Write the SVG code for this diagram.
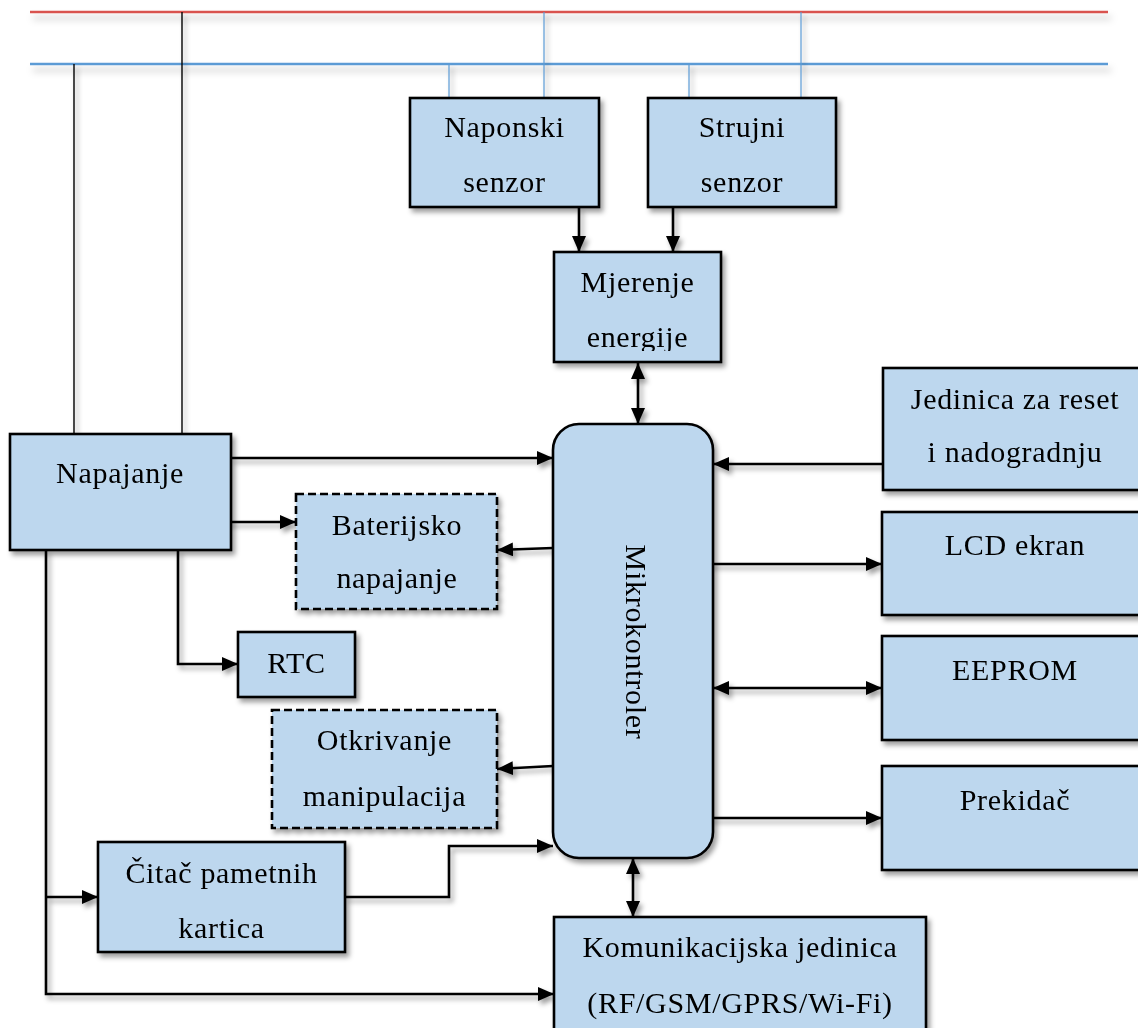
<svg xmlns="http://www.w3.org/2000/svg" width="1138" height="1028" viewBox="0 0 1138 1028">
<style>
.box{fill:#BDD7EE;stroke:#000;stroke-width:2.6}
.dash{fill:#BDD7EE;stroke:#000;stroke-width:2.6;stroke-dasharray:8 4}
.t{font-family:"Liberation Serif","Times New Roman",serif;font-size:30px;text-anchor:middle;fill:#000;letter-spacing:0.7px}
.c{fill:none;stroke:#000;stroke-width:2.6}
.thin{fill:none;stroke:#000;stroke-width:1.4}
.bl{fill:none;stroke:#5B9BD5;stroke-width:1.2}
</style>
<defs>
<filter id="sh" x="-20%" y="-20%" width="140%" height="140%">
<feDropShadow dx="3" dy="4" stdDeviation="2.5" flood-color="#000" flood-opacity="0.38"/>
</filter>
<filter id="shl" x="-5%" y="-200%" width="110%" height="500%">
<feDropShadow dx="3" dy="6" stdDeviation="3.5" flood-color="#000" flood-opacity="0.25"/>
</filter>
<marker id="ah" viewBox="0 0 16 14" refX="16" refY="7" markerWidth="16" markerHeight="14" markerUnits="userSpaceOnUse" orient="auto-start-reverse">
<path d="M0,0 L16,7 L0,14 z" fill="#000"/>
</marker>
<clipPath id="mjclip"><rect x="540" y="240" width="200" height="111"/></clipPath>
</defs>

<g id="buses" filter="url(#shl)">
<line x1="30" y1="12" x2="1108" y2="12" stroke="#D9534F" stroke-width="2.5"/>
<line x1="30" y1="64" x2="1108" y2="64" stroke="#5B9BD5" stroke-width="2.5"/>
</g>

<g id="connectors" filter="url(#sh)">
<line class="thin" x1="182" y1="12" x2="182" y2="434"/>
<line class="thin" x1="74" y1="64" x2="74" y2="434"/>
<line class="bl" x1="449" y1="64" x2="449" y2="98"/>
<line class="bl" x1="544" y1="12" x2="544" y2="98"/>
<line class="bl" x1="689" y1="64" x2="689" y2="98"/>
<line class="bl" x1="801" y1="12" x2="801" y2="98"/>
<line class="c" x1="579" y1="207" x2="579" y2="252" marker-end="url(#ah)"/>
<line class="c" x1="673" y1="207" x2="673" y2="252" marker-end="url(#ah)"/>
<line class="c" x1="638" y1="363" x2="638" y2="424" marker-start="url(#ah)" marker-end="url(#ah)"/>
<line class="c" x1="231" y1="458" x2="553" y2="458" marker-end="url(#ah)"/>
<line class="c" x1="227" y1="522" x2="296" y2="522" marker-end="url(#ah)"/>
<line class="c" x1="553" y1="548" x2="497" y2="550" marker-end="url(#ah)"/>
<polyline class="c" points="178,550 178,664 238,664" marker-end="url(#ah)"/>
<line class="c" x1="553" y1="766" x2="497" y2="769" marker-end="url(#ah)"/>
<polyline class="c" points="345,897 449,897 449,846 553,846" marker-end="url(#ah)"/>
<polyline class="c" points="46,550 46,994 554,994" marker-end="url(#ah)"/>
<line class="c" x1="46" y1="897" x2="98" y2="897" marker-end="url(#ah)"/>
<line class="c" x1="883" y1="464" x2="713" y2="464" marker-end="url(#ah)"/>
<line class="c" x1="709" y1="564" x2="882" y2="564" marker-end="url(#ah)"/>
<line class="c" x1="713" y1="688" x2="882" y2="688" marker-start="url(#ah)" marker-end="url(#ah)"/>
<line class="c" x1="709" y1="818" x2="882" y2="818" marker-end="url(#ah)"/>
<line class="c" x1="633" y1="858" x2="633" y2="917" marker-start="url(#ah)" marker-end="url(#ah)"/>
</g>

<g id="naponski" filter="url(#sh)">
<rect class="box" x="410" y="98" width="189" height="109"/>
<text class="t" x="504.5" y="137">Naponski</text>
<text class="t" x="504.5" y="192">senzor</text>
</g>
<g id="strujni" filter="url(#sh)">
<rect class="box" x="648" y="98" width="188" height="109"/>
<text class="t" x="742" y="137">Strujni</text>
<text class="t" x="742" y="192">senzor</text>
</g>
<g id="mjerenje" filter="url(#sh)">
<rect class="box" x="554" y="252" width="167" height="110"/>
<g clip-path="url(#mjclip)">
<text class="t" x="637.5" y="292">Mjerenje</text>
<text class="t" x="637.5" y="347">energije</text>
</g>
</g>
<g id="napajanje" filter="url(#sh)">
<rect class="box" x="10" y="434" width="221" height="116"/>
<text class="t" x="120" y="483">Napajanje</text>
</g>
<g id="mikrokontroler" filter="url(#sh)">
<rect class="box" x="553" y="424" width="160" height="434" rx="26" ry="26"/>
<text class="t" transform="translate(626,642) rotate(90)" x="0" y="0">Mikrokontroler</text>
</g>
<g id="baterijsko" filter="url(#sh)">
<rect class="dash" x="296" y="494" width="201" height="115"/>
<text class="t" x="397" y="535">Baterijsko</text>
<text class="t" x="397" y="588">napajanje</text>
</g>
<g id="rtc" filter="url(#sh)">
<rect class="box" x="238" y="632" width="117" height="65"/>
<text class="t" x="296.5" y="673">RTC</text>
</g>
<g id="otkrivanje" filter="url(#sh)">
<rect class="dash" x="272" y="710" width="225" height="118"/>
<text class="t" x="384.5" y="750">Otkrivanje</text>
<text class="t" x="384.5" y="806">manipulacija</text>
</g>
<g id="citac" filter="url(#sh)">
<rect class="box" x="98" y="842" width="247" height="110"/>
<text class="t" x="221.5" y="883">Čitač pametnih</text>
<text class="t" x="221.5" y="938">kartica</text>
</g>
<g id="komunikacijska" filter="url(#sh)">
<rect class="box" x="554" y="917" width="372" height="125"/>
<text class="t" x="740" y="957">Komunikacijska jedinica</text>
<text class="t" x="740" y="1013">(RF/GSM/GPRS/Wi-Fi)</text>
</g>
<g id="jedinica" filter="url(#sh)">
<rect class="box" x="883" y="368" width="270" height="122"/>
<text class="t" x="1015" y="409">Jedinica za reset</text>
<text class="t" x="1015" y="462">i nadogradnju</text>
</g>
<g id="lcd" filter="url(#sh)">
<rect class="box" x="882" y="512" width="270" height="103"/>
<text class="t" x="1015" y="555">LCD ekran</text>
</g>
<g id="eeprom" filter="url(#sh)">
<rect class="box" x="882" y="636" width="270" height="104"/>
<text class="t" x="1015" y="680">EEPROM</text>
</g>
<g id="prekidac" filter="url(#sh)">
<rect class="box" x="882" y="766" width="270" height="104"/>
<text class="t" x="1015" y="810">Prekidač</text>
</g>
</svg>
